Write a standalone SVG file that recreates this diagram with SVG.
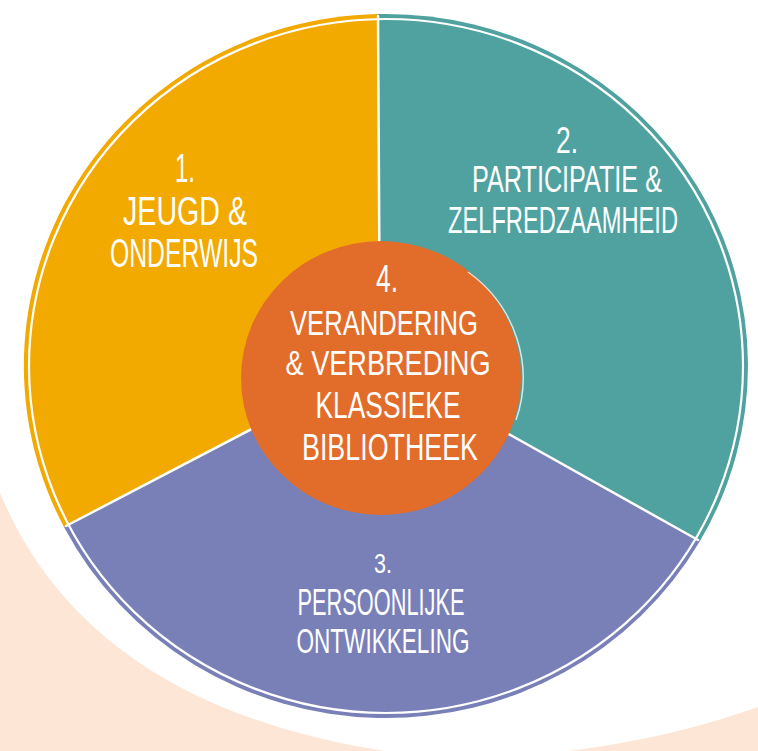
<svg xmlns="http://www.w3.org/2000/svg" width="758" height="751" viewBox="0 0 758 751">
  <style>
    .lbl { font-family: "Liberation Sans", "DejaVu Sans", sans-serif; fill: #ffffff; text-anchor: middle; }
    .div { stroke: #ffffff; stroke-width: 2.5; fill: none; stroke-linecap: round; }
    .rim { stroke: #ffffff; stroke-width: 2.2; fill: none; }
  </style>
  <rect x="0" y="0" width="758" height="751" fill="#ffffff"/>
  <path id="backdrop" d="M0,493 C70,660 230,735 430,757 C560,762 680,735 758,707 L758,751 L0,751 Z" fill="#FDE6D6"/>

  <g id="sector-1">
    <path d="M380,362 L378,14 A362,352 0 0 0 64,527 Z" fill="#F2A900"/>
    <text class="lbl" x="185" y="182" font-size="40" textLength="20" lengthAdjust="spacingAndGlyphs">1.</text>
    <text class="lbl" x="185" y="225" font-size="40" textLength="124" lengthAdjust="spacingAndGlyphs">JEUGD &amp;</text>
    <text class="lbl" x="184" y="267" font-size="40" textLength="148" lengthAdjust="spacingAndGlyphs">ONDERWIJS</text>
  </g>

  <g id="sector-2">
    <path d="M380,362 L378,14 A362,352 0 0 1 700,541 Z" fill="#4FA2A0"/>
    <text class="lbl" x="567" y="153" font-size="36" textLength="22" lengthAdjust="spacingAndGlyphs">2.</text>
    <text class="lbl" x="567" y="192" font-size="37" textLength="190" lengthAdjust="spacingAndGlyphs">PARTICIPATIE &amp;</text>
    <text class="lbl" x="563" y="233" font-size="37" textLength="230" lengthAdjust="spacingAndGlyphs">ZELFREDZAAMHEID</text>
  </g>

  <g id="sector-3">
    <path d="M380,362 L700,541 A362,352 0 0 1 64,527 Z" fill="#7980B8"/>
    <text class="lbl" x="383" y="573" font-size="28" textLength="18" lengthAdjust="spacingAndGlyphs">3.</text>
    <text class="lbl" x="381" y="615" font-size="36" textLength="167" lengthAdjust="spacingAndGlyphs">PERSOONLIJKE</text>
    <text class="lbl" x="383" y="653" font-size="35" textLength="173" lengthAdjust="spacingAndGlyphs">ONTWIKKELING</text>
  </g>

  <g id="connectors">
    <ellipse class="rim" cx="386" cy="366" rx="357" ry="347"/>
    <line class="div" x1="378" y1="16" x2="380" y2="362"/>
    <line class="div" x1="66" y1="526" x2="380" y2="362"/>
    <line class="div" x1="698" y1="540" x2="380" y2="362"/>
  </g>

  <g id="center-4">
    <ellipse cx="381" cy="378" rx="140" ry="137" fill="#E26C2A"/>
    <path d="M468,272 A134,131 0 0 1 516,420" fill="none" stroke="#ffffff" stroke-width="1.5" stroke-opacity="0.75"/>
    <text class="lbl" x="387" y="292" font-size="38" textLength="22" lengthAdjust="spacingAndGlyphs">4.</text>
    <text class="lbl" x="384" y="335" font-size="35" textLength="188" lengthAdjust="spacingAndGlyphs">VERANDERING</text>
    <text class="lbl" x="388" y="375" font-size="35" textLength="205" lengthAdjust="spacingAndGlyphs">&amp; VERBREDING</text>
    <text class="lbl" x="388" y="418" font-size="37" textLength="145" lengthAdjust="spacingAndGlyphs">KLASSIEKE</text>
    <text class="lbl" x="390" y="460" font-size="37" textLength="176" lengthAdjust="spacingAndGlyphs">BIBLIOTHEEK</text>
  </g>
</svg>
